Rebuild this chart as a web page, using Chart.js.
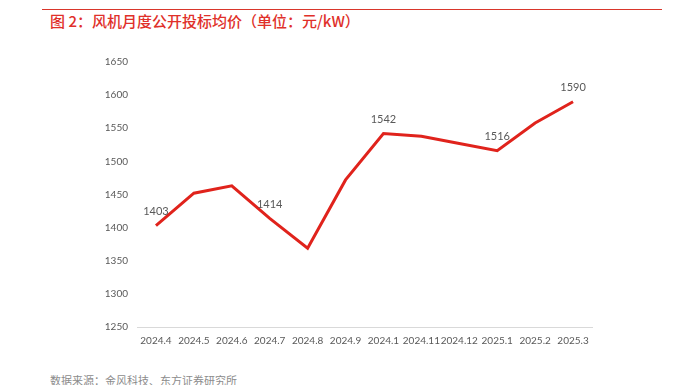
<!DOCTYPE html>
<html lang="zh">
<head>
    <meta charset="UTF-8">
    <title>风机月度公开投标均价</title>
    <script src="https://cdn.jsdelivr.net/npm/chart.js"></script>
    <style>
        body { margin: 0; background: #fff; width: 679px; height: 385px; overflow: hidden; position: relative; }
        .topline { position: absolute; left: 42px; top: 9px; width: 620px; height: 1px; background: #d9362b; }
        .title { position: absolute; left: 50px; top: 10px; font: 500 15px "Noto Sans CJK SC", sans-serif; color: #e0302a; white-space: nowrap; }
        .source { position: absolute; left: 50px; top: 372px; font: 11px "Noto Sans CJK SC", sans-serif; color: #8c8c8c; white-space: nowrap; }
        .wrap { position: absolute; left: 0; top: 40px; width: 679px; height: 320px; }
    </style>
</head>
<body>
    <div class="topline"></div>
    <div class="title">图 2：风机月度公开投标均价（单位：元/kW）</div>
    <div class="wrap"><canvas id="priceChart"></canvas></div>
    <div class="source">数据来源：金风科技、东方证券研究所</div>

    <script>
        // 数据
        const months = ['2024.4', '2024.5', '2024.6', '2024.7', '2024.8', '2024.9', '2024.1', '2024.11', '2024.12', '2025.1', '2025.2', '2025.3'];
        const prices = [1403, 1452, 1463, 1414, 1369, 1472, 1542, 1538, 1527, 1516, 1558, 1590];
        // 显示数值标签的点
        const labelIdx = [0, 3, 6, 9, 11];

        const pointLabels = {
            id: 'pointLabels',
            afterDatasetsDraw(chart) {
                const ctx = chart.ctx;
                const meta = chart.getDatasetMeta(0);
                ctx.save();
                ctx.font = '11px Lato, sans-serif';
                ctx.fillStyle = '#595959';
                ctx.textAlign = 'center';
                ctx.textBaseline = 'middle';
                labelIdx.forEach(i => {
                    const p = meta.data[i];
                    ctx.fillText(prices[i], p.x, p.y - 14);
                });
                ctx.restore();
            }
        };

        new Chart(document.getElementById('priceChart'), {
            type: 'line',
            data: {
                labels: months,
                datasets: [{
                    data: prices,
                    borderColor: '#e0231c',
                    borderWidth: 3,
                    pointRadius: 0,
                    tension: 0
                }]
            },
            options: {
                responsive: true,
                maintainAspectRatio: false,
                animation: false,
                layout: { padding: { top: 22, right: 87, left: 0, bottom: 0 } },
                plugins: { legend: { display: false }, tooltip: { enabled: false } },
                scales: {
                    x: {
                        offset: true,
                        grid: { display: false, drawTicks: false },
                        border: { display: true, color: '#d9d9d9', width: 1 },
                        ticks: { font: { family: 'Lato', size: 10 }, color: '#595959', padding: 8, maxRotation: 0, autoSkip: false },
                        afterFit(scale) { scale.height = 33; }
                    },
                    y: {
                        min: 1250,
                        max: 1650,
                        grid: { display: false, drawTicks: false },
                        border: { display: false },
                        ticks: { stepSize: 50, font: { family: 'Lato', size: 10 }, color: '#595959', padding: 9, callback: v => String(v) },
                        afterFit(scale) { scale.width = 137; }
                    }
                }
            },
            plugins: [pointLabels]
        });
    </script>
</body>
</html>
